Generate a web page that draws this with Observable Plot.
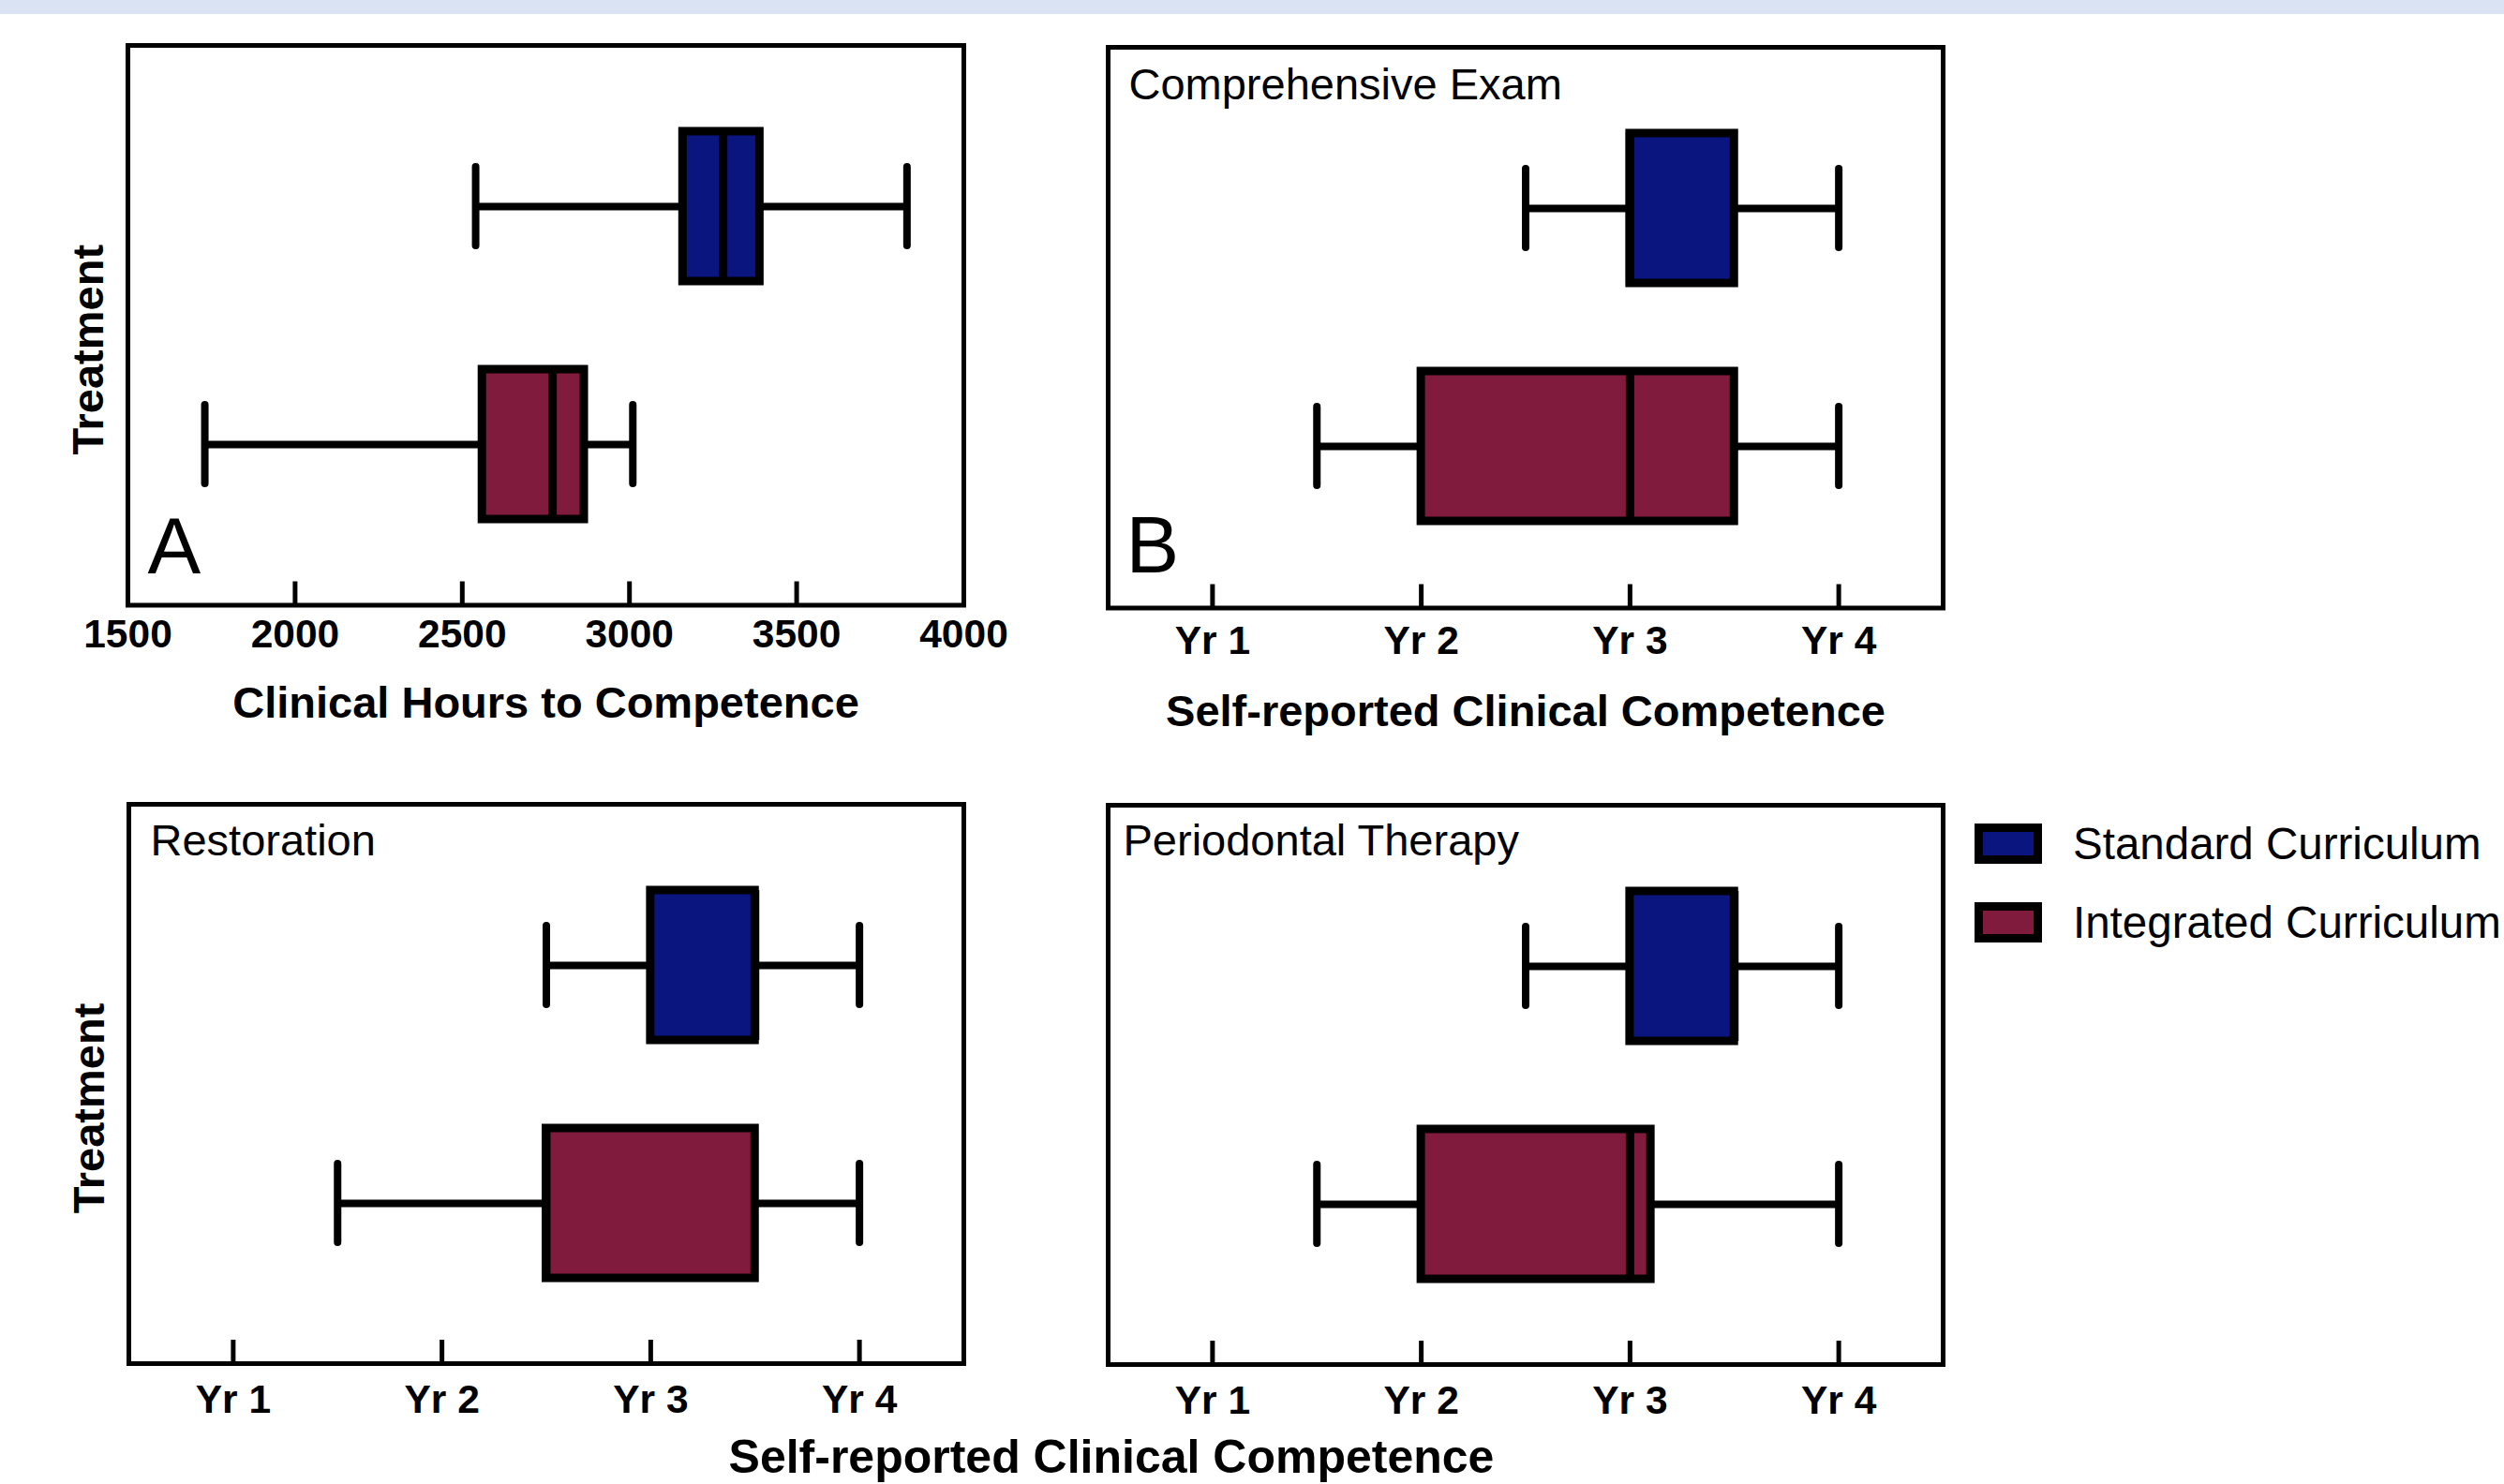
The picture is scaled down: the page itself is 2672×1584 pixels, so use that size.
<!DOCTYPE html>
<html>
<head>
<meta charset="utf-8">
<script src="https://cdn.jsdelivr.net/npm/d3@7"></script>
<script src="https://cdn.jsdelivr.net/npm/@observablehq/plot@0.6"></script>
<style>
  html, body { margin: 0; padding: 0; background: #ffffff; }
  body { width: 2672px; height: 1584px; position: relative; overflow: hidden;
         font-family: "Liberation Sans", Arial, Helvetica, sans-serif; color: #000; }
  .topband { position: absolute; left: 0; top: 0; width: 2672px; height: 15px; background: #dae3f3; }
  .panel { position: absolute; }
  .legend-swatch { position: absolute; box-sizing: border-box; width: 72px; height: 43px; border: 9px solid #000; }
  .legend-text { position: absolute; font-size: 47.5px; line-height: 47.5px; white-space: nowrap; }
  .bottom-title { position: absolute; left: 0; width: 2372px; text-align: center; font-size: 50px;
                  line-height: 50px; font-weight: bold; white-space: nowrap; }
</style>
</head>
<body>
<div class="topband"></div>
<div id="root"></div>
<script>
// ---------- data ----------
const groups = ["Standard Curriculum", "Integrated Curriculum"];
const groupColors = ["#0b1580", "#801b3e"];

// Panel A: clinical hours to competence
const hourTicks = [1500, 2000, 2500, 3000, 3500, 4000];
const hoursMin = [2540, 1730];
const hoursQ1 = [3160, 2560];
const hoursMedian = [3280, 2770];
const hoursQ3 = [3390, 2865];
const hoursMax = [3830, 3010];

// Panels B–D: self-reported clinical competence (year of training)
const procedures = ["Comprehensive Exam", "Restoration", "Periodontal Therapy"];
const yearTicks = [1, 2, 3, 4];
const yearLabels = ["Yr 1", "Yr 2", "Yr 3", "Yr 4"];
const compMin    = [[2.5, 1.5], [2.5, 1.5], [2.5, 1.5]];
const compQ1     = [[3.0, 2.0], [3.0, 2.5], [3.0, 2.0]];
const compMedian = [[3.0, 3.0], [3.5, 2.5], [3.5, 3.0]];
const compQ3     = [[3.5, 3.5], [3.5, 3.5], [3.5, 3.1]];
const compMax    = [[4.0, 4.0], [4.0, 4.0], [4.0, 4.0]];

const hoursLabel = "Clinical Hours to Competence";
const compLabel = "Self-reported Clinical Competence";
const yLabel = "Treatment";

// ---------- drawing ----------
const FONT = "Liberation Sans, Arial, Helvetica, sans-serif";
const M = {l: 150, r: 40, t: 40, b: 150};
const root = document.getElementById("root");

function boxPanel(cfg) {
  const {x0, y0, w, h} = cfg.frame;
  const rows = groups.map((g, i) => ({
    group: g, min: cfg.min[i], q1: cfg.q1[i], median: cfg.median[i], q3: cfg.q3[i], max: cfg.max[i]
  }));
  const marks = [
    Plot.tickX(cfg.ticks, {x: d => d, insetTop: h - 25, stroke: "black", strokeWidth: 5}),
    Plot.axisX({ticks: cfg.ticks, tickFormat: cfg.tickFormat, tickSize: 0, tickPadding: cfg.tickPadding,
                fontSize: 42.5, fontWeight: "bold", fill: "black", label: null}),
    Plot.ruleY(rows, {y: "group", x1: "min", x2: "max", stroke: "black", strokeWidth: 8}),
    Plot.barX(rows, {y: "group", x1: "q1", x2: "q3", fill: "group", stroke: "black", strokeWidth: 9}),
    Plot.tickX(rows, {y: "group", x: "median", stroke: "black", strokeWidth: 9}),
    Plot.tickX(rows, {y: "group", x: "min", insetTop: 38, insetBottom: 38, stroke: "black",
                      strokeWidth: 8, strokeLinecap: "round"}),
    Plot.tickX(rows, {y: "group", x: "max", insetTop: 38, insetBottom: 38, stroke: "black",
                      strokeWidth: 8, strokeLinecap: "round"}),
    Plot.frame({stroke: "black", strokeWidth: 5})
  ];
  if (cfg.title) marks.push(Plot.text([cfg.title], {text: d => d, frameAnchor: "top-left", textAnchor: "start",
      lineAnchor: "middle", dx: cfg.titleDx, dy: cfg.titleDy, fontSize: 47, fill: "black"}));
  if (cfg.letter) marks.push(Plot.text([cfg.letter], {text: d => d, frameAnchor: "bottom-left", textAnchor: "start",
      lineAnchor: "middle", dx: cfg.letterDx, dy: cfg.letterDy, fontSize: 85, fill: "black"}));
  if (cfg.xLabel) marks.push(Plot.text([cfg.xLabel], {text: d => d, frameAnchor: "bottom", textAnchor: "middle",
      lineAnchor: "middle", dy: cfg.xLabelDy, fontSize: 47, fontWeight: "bold", fill: "black"}));
  if (cfg.yLabel) marks.push(Plot.text([cfg.yLabel], {text: d => d, frameAnchor: "left", textAnchor: "middle",
      rotate: -90, lineAnchor: "middle", dx: -42, dy: 26, fontSize: 47, fontWeight: "bold", fill: "black"}));

  const svg = Plot.plot({
    width: w + M.l + M.r,
    height: h + M.t + M.b,
    marginLeft: M.l, marginRight: M.r, marginTop: M.t, marginBottom: M.b,
    x: {domain: cfg.domain},
    y: {type: "band", domain: groups, paddingInner: 0.372, paddingOuter: 0.36, axis: null},
    color: {domain: groups, range: groupColors},
    style: {fontFamily: FONT, color: "black", background: "transparent", overflow: "visible"},
    marks
  });
  svg.classList.add("panel");
  svg.style.left = (x0 - M.l) + "px";
  svg.style.top = (y0 - M.t) + "px";
  root.appendChild(svg);
}

// Panel A
boxPanel({
  frame: {x0: 136, y0: 47.5, w: 892, h: 597.5},
  domain: [1500, 4000], ticks: hourTicks, tickFormat: d => String(d), tickPadding: 15,
  min: hoursMin, q1: hoursQ1, median: hoursMedian, q3: hoursQ3, max: hoursMax,
  letter: "A", letterDx: 21, letterDy: -61,
  xLabel: hoursLabel, xLabelDy: 105, yLabel: yLabel
});

// Panels B, C, D
const compFrames = [
  {x0: 1182, y0: 49.5, w: 891, h: 598.5},
  {x0: 137, y0: 858, w: 891, h: 597},
  {x0: 1182, y0: 859, w: 891, h: 597}
];
const compExtras = [
  {titleDx: 22, titleDy: 40, letter: "B", letterDx: 19, letterDy: -65, xLabel: compLabel, xLabelDy: 111, tickPadding: 18.5},
  {titleDx: 23, titleDy: 39, yLabel: yLabel, tickPadding: 22},
  {titleDx: 16, titleDy: 38, tickPadding: 22}
];
procedures.forEach((p, k) => {
  boxPanel(Object.assign({
    frame: compFrames[k], domain: [0.5, 4.5], ticks: yearTicks,
    tickFormat: d => yearLabels[yearTicks.indexOf(d)],
    min: compMin[k], q1: compQ1[k], median: compMedian[k], q3: compQ3[k], max: compMax[k],
    title: p
  }, compExtras[k]));
});

// Shared bottom axis title
const bt = document.createElement("div");
bt.className = "bottom-title";
bt.style.top = "1530px";
bt.textContent = compLabel;
document.body.appendChild(bt);

// Legend
groups.forEach((g, i) => {
  const sw = document.createElement("div");
  sw.className = "legend-swatch";
  sw.style.left = "2107px";
  sw.style.top = (879 + i * 84) + "px";
  sw.style.background = groupColors[i];
  document.body.appendChild(sw);
  const tx = document.createElement("div");
  tx.className = "legend-text";
  tx.style.left = "2212px";
  tx.style.top = (877 + i * 84) + "px";
  tx.textContent = g;
  document.body.appendChild(tx);
});
</script>
</body>
</html>
